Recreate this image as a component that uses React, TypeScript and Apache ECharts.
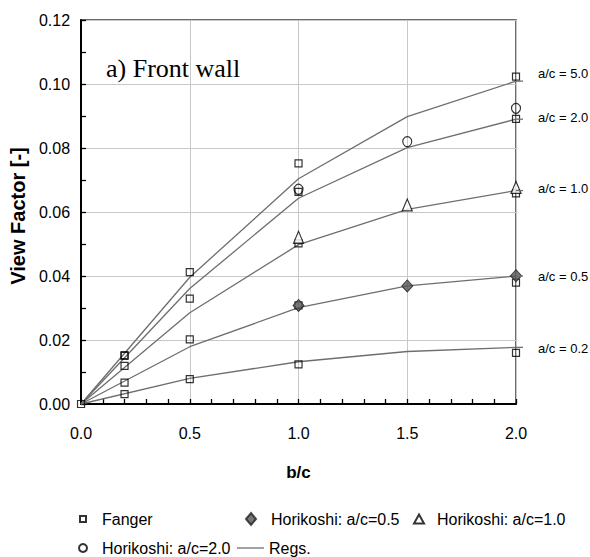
import React, { useEffect, useRef } from "react";
import * as echarts from "echarts";

// Regression curves (b/c vs view factor), one per a/c ratio
const regBC = [0, 0.5, 1.0, 1.5, 2.0];
const reg02 = [0, 0.008, 0.0132, 0.0164, 0.0177];
const reg05 = [0, 0.0179, 0.0301, 0.0369, 0.04];
const reg10 = [0, 0.0285, 0.0498, 0.0608, 0.0667];
const reg20 = [0, 0.0361, 0.0643, 0.0801, 0.089];
const reg50 = [0, 0.0396, 0.0704, 0.0898, 0.1009];
const regCurves = [reg02, reg05, reg10, reg20, reg50];
const regLabels = ["a/c = 0.2", "a/c = 0.5", "a/c = 1.0", "a/c = 2.0", "a/c = 5.0"];

// Fanger measurements
const fangerBC = [0, 0.2, 0.2, 0.2, 0.2, 0.2, 0.5, 0.5, 0.5, 0.5, 1, 1, 1, 1, 1, 2, 2, 2, 2, 2];
const fangerVF = [
  0, 0.0153, 0.015, 0.0119, 0.0067, 0.0031, 0.0412, 0.0329, 0.0202, 0.0078, 0.0752, 0.0663,
  0.0502, 0.0308, 0.0124, 0.1023, 0.0891, 0.0658, 0.0379, 0.016,
];

// Horikoshi results
const horiBC = [1.0, 1.5, 2.0];
const hori05 = [0.0308, 0.0369, 0.0401];
const hori10 = [0.0521, 0.0622, 0.0677];
const hori20 = [0.0671, 0.082, 0.0924];

const FONT = "'Liberation Sans', Arial, sans-serif";
const LINE_COLOR = "#6e6e6e";
// vertical nudges of the curve labels at the right-hand side
const labelDy = [1, 0, -2, -2, -8];

const zip = (xs: number[], ys: number[]) => xs.map((x, i) => [x, ys[i]]);

export default function App() {
  const ref = useRef<HTMLDivElement>(null);

  useEffect(() => {
    if (!ref.current) return;
    const chart = echarts.init(ref.current, undefined, { renderer: "svg" });

    const regSeries = regCurves.map((vals) => ({
      type: "line",
      name: "Regs.",
      data: zip(regBC, vals),
      symbol: "none",
      z: 2,
      lineStyle: { color: LINE_COLOR, width: 1.3 },
      itemStyle: { color: LINE_COLOR },
    }));

    const legendBase = {
      padding: 0,
      selectedMode: false,
    };
    const legendText = (pad: number) => ({
      fontSize: 16,
      fontFamily: FONT,
      color: "#000",
      padding: [0, 0, 0, pad],
    });

    chart.setOption({
      animation: false,
      backgroundColor: "#fff",
      grid: {
        left: 81,
        top: 20,
        right: 74,
        bottom: 153,
        show: true,
        borderColor: "#3a3a3a",
        borderWidth: 1.5,
      },
      xAxis: {
        type: "value",
        min: 0,
        max: 2,
        interval: 0.5,
        name: "b/c",
        nameLocation: "middle",
        nameGap: 60,
        nameTextStyle: { fontSize: 17, fontWeight: "bold", fontFamily: FONT, color: "#000" },
        axisLine: { lineStyle: { color: "#000", width: 2 } },
        axisTick: { show: true, inside: true, length: 5, lineStyle: { color: "#000", width: 1.3 } },
        minorTick: { show: true, splitNumber: 5, length: 5, lineStyle: { color: "#000", width: 1.3 } },
        axisLabel: {
          fontSize: 16,
          fontFamily: FONT,
          color: "#000",
          margin: 21,
          formatter: (v: number) => v.toFixed(1),
        },
        splitLine: { show: true, lineStyle: { color: "#c8c8c8", width: 1 } },
      },
      yAxis: {
        type: "value",
        min: 0,
        max: 0.12,
        interval: 0.02,
        name: "View Factor [-]",
        nameLocation: "middle",
        nameGap: 52,
        nameTextStyle: {
          fontSize: 20,
          fontWeight: "bold",
          fontFamily: FONT,
          color: "#000",
          padding: [0, 8, 0, 0],
        },
        axisLine: { show: true, lineStyle: { color: "#000", width: 2 } },
        axisTick: { show: true, inside: true, length: 5, lineStyle: { color: "#000", width: 1.3 } },
        minorTick: { show: true, splitNumber: 2, length: 5, lineStyle: { color: "#000", width: 1.3 } },
        axisLabel: {
          fontSize: 16,
          fontFamily: FONT,
          color: "#000",
          margin: 11,
          formatter: (v: number) => v.toFixed(2),
        },
        splitLine: { show: true, lineStyle: { color: "#c8c8c8", width: 1 } },
      },
      legend: [
        {
          ...legendBase,
          data: ["Fanger"],
          left: 79,
          top: 511,
          itemWidth: 6,
          itemHeight: 6,
          textStyle: legendText(11),
        },
        {
          ...legendBase,
          data: ["Horikoshi: a/c=0.5"],
          left: 245,
          top: 511,
          itemWidth: 10,
          itemHeight: 12,
          textStyle: legendText(10),
        },
        {
          ...legendBase,
          data: ["Horikoshi: a/c=1.0"],
          left: 413,
          top: 511,
          itemWidth: 10,
          itemHeight: 9,
          textStyle: legendText(8),
        },
        {
          ...legendBase,
          data: ["Horikoshi: a/c=2.0"],
          left: 78,
          top: 540,
          itemWidth: 8,
          itemHeight: 10,
          textStyle: legendText(10),
        },
        {
          ...legendBase,
          data: [{ name: "Regs.", icon: "rect" }],
          left: 237,
          top: 540,
          itemWidth: 27,
          itemHeight: 1.3,
          textStyle: legendText(0),
        },
      ],
      series: [
        ...regSeries,
        {
          type: "scatter",
          name: "Fanger",
          data: zip(fangerBC, fangerVF),
          symbol: "rect",
          symbolSize: 7,
          z: 3,
          itemStyle: { color: "rgba(255,255,255,0)", borderColor: "#000", borderWidth: 1.2 },
        },
        {
          type: "scatter",
          name: "Horikoshi: a/c=0.5",
          data: zip(horiBC, hori05),
          symbol: "diamond",
          symbolSize: [11, 12],
          z: 4,
          itemStyle: { color: "#555", borderColor: "#222", borderWidth: 1 },
        },
        {
          type: "scatter",
          name: "Horikoshi: a/c=1.0",
          data: zip(horiBC, hori10),
          symbol: "triangle",
          symbolSize: [10, 12],
          z: 4,
          itemStyle: { color: "#fff", borderColor: "#000", borderWidth: 1.2 },
        },
        {
          type: "scatter",
          name: "Horikoshi: a/c=2.0",
          data: zip(horiBC, hori20),
          symbol: "circle",
          symbolSize: [9, 10],
          z: 4,
          itemStyle: { color: "rgba(255,255,255,0)", borderColor: "#000", borderWidth: 1.2 },
        },
      ],
    });

    // Short leaders and a/c labels past the right end of each regression curve
    const curveNotes: any[] = [];
    regCurves.forEach((vals, i) => {
      const end = chart.convertToPixel({ gridIndex: 0 }, [
        regBC[regBC.length - 1],
        vals[vals.length - 1],
      ]) as number[];
      curveNotes.push({
        type: "line",
        shape: { x1: end[0], y1: end[1], x2: end[0] + 7, y2: end[1] },
        style: { stroke: LINE_COLOR, lineWidth: 1.3 },
        z: 5,
      });
      curveNotes.push({
        type: "text",
        x: end[0] + 22,
        y: end[1] + labelDy[i],
        style: {
          text: regLabels[i],
          font: `13px ${FONT}`,
          fill: "#000",
          verticalAlign: "middle",
          align: "left",
        },
        z: 5,
      });
    });

    chart.setOption({
      graphic: [
        {
          type: "text",
          left: 106,
          top: 55,
          style: {
            text: "a) Front wall",
            font: "26px 'Liberation Serif', 'Times New Roman', serif",
            fill: "#000",
          },
        },
        ...curveNotes,
      ],
    });

    return () => chart.dispose();
  }, []);

  return (
    <div
      ref={ref}
      style={{ position: "absolute", left: 0, top: 0, width: 590, height: 557 }}
    />
  );
}
